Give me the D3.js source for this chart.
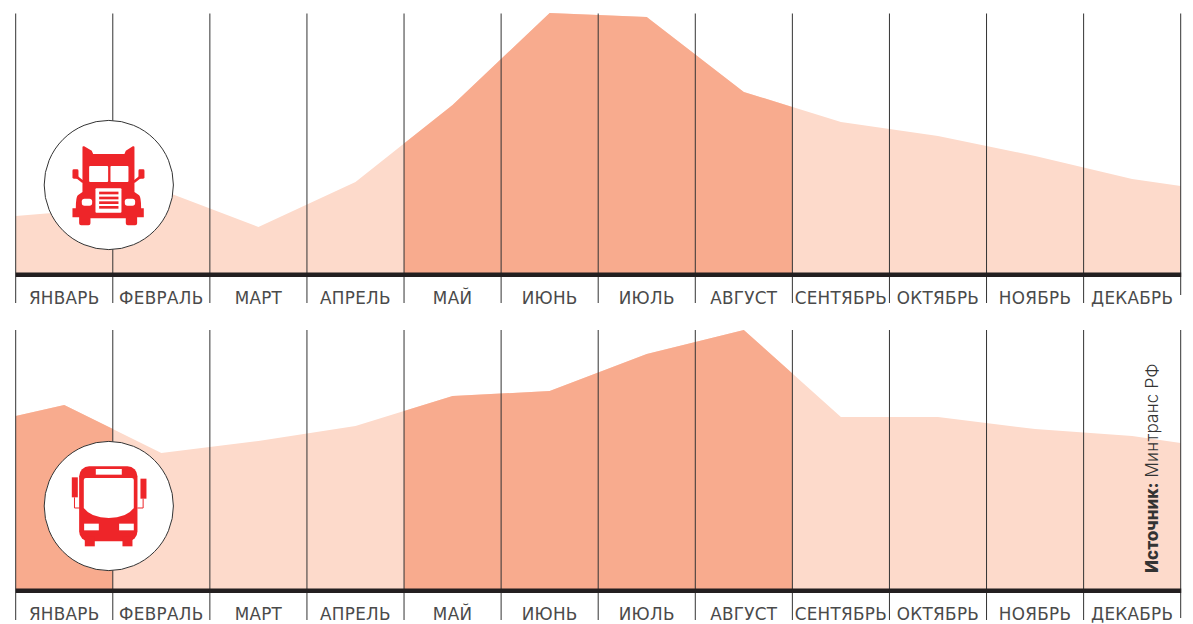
<!DOCTYPE html>
<html>
<head>
<meta charset="utf-8">
<script src="https://cdn.jsdelivr.net/npm/d3@7"></script>
<style>
  html, body { margin: 0; padding: 0; background: #fff; }
  svg { display: block; }
  .month { font-family: "DejaVu Sans", sans-serif; font-size: 16.8px; letter-spacing: 0.3px; fill: #4a4a4a; }
  .source { font-family: Inter, "Noto Sans", sans-serif; font-size: 17px; fill: #333; }
</style>
</head>
<body>
<svg id="chart" width="1193" height="624"></svg>
<script>
const months = ["ЯНВАРЬ", "ФЕВРАЛЬ", "МАРТ", "АПРЕЛЬ", "МАЙ", "ИЮНЬ", "ИЮЛЬ", "АВГУСТ", "СЕНТЯБРЬ", "ОКТЯБРЬ", "НОЯБРЬ", "ДЕКАБРЬ"];

// heights, one per month centre, plus the two edges of the year
const truckValues = [62, 84, 47, 92, 169, 261, 257, 182, 152, 138, 118, 95];
const truckEdges = [58, 88];
const truckPeak = ["МАЙ", "ИЮНЬ", "ИЮЛЬ", "АВГУСТ"];

const busValues = [185, 137, 149, 164, 194, 199, 236, 260, 173, 173, 161, 154];
const busEdges = [174, 147];
const busPeak = ["ЯНВАРЬ", "МАЙ", "ИЮНЬ", "ИЮЛЬ", "АВГУСТ"];

const svg = d3.select("#chart");

const x = d3.scaleBand().domain(months).range([15.7, 1180.7]);
const maxValue = 261;

function drawPanel(id, values, edges, peak, baseY, lineTop, lineBottom, lastBottom) {
  const y = d3.scaleLinear().domain([0, maxValue]).range([baseY, baseY - maxValue]);
  const g = svg.append("g").attr("class", id);

  const points = [
    { pos: x.range()[0], value: edges[0] },
    ...months.map((m, i) => ({ pos: x(m) + x.bandwidth() / 2, value: values[i] })),
    { pos: x.range()[1], value: edges[1] },
  ];

  const area = d3
    .area()
    .x((d) => d.pos)
    .y0(y(0))
    .y1((d) => y(d.value));

  g.append("path").attr("d", area(points)).attr("fill", "#fddacb");

  // darker months are the same area clipped to their columns
  const clip = g.append("clipPath").attr("id", id + "Clip");
  clip
    .selectAll("rect")
    .data(peak)
    .join("rect")
    .attr("x", (d) => x(d))
    .attr("y", y(maxValue) - 5)
    .attr("width", x.bandwidth())
    .attr("height", maxValue + 5);
  g.append("path")
    .attr("d", area(points))
    .attr("fill", "#f8ab8e")
    .attr("clip-path", `url(#${id}Clip)`);

  const gridPos = months.map((m) => x(m)).concat(x.range()[1]);
  g.selectAll("line.grid")
    .data(gridPos)
    .join("line")
    .attr("class", "grid")
    .attr("x1", (d) => d)
    .attr("x2", (d) => d)
    .attr("y1", lineTop)
    .attr("y2", (d, i) => (i === months.length ? lastBottom : lineBottom))
    .attr("stroke", "#333")
    .attr("stroke-width", 1);

  g.append("line")
    .attr("x1", x.range()[0])
    .attr("x2", x.range()[1] + 0.5)
    .attr("y1", y(0) + 0.7)
    .attr("y2", y(0) + 0.7)
    .attr("stroke", "#231f20")
    .attr("stroke-width", 4.5);

  g.selectAll("text.month")
    .data(months)
    .join("text")
    .attr("class", "month")
    .attr("x", (d) => x(d) + x.bandwidth() / 2)
    .attr("y", y(0) + 29.5)
    .attr("text-anchor", "middle")
    .text((d) => d);
}

// icon badges, local coordinates are 3x the pixels of the crop
function badge(cx, cy) {
  const g = svg.append("g").attr("transform", `translate(${cx},${cy})`);
  g.append("circle").attr("r", 64.6).attr("fill", "#fff").attr("stroke", "#333").attr("stroke-width", 1);
  return g.append("g").attr("transform", "scale(0.3333)");
}

function drawTruck(g, ox, oy) {
  const red = "#ee2529";
  const t = g.append("g").attr("transform", `translate(${ox},${oy})`);
  t.append("path")
    .attr("fill", red)
    .attr("d", "M68 22Q68 17 73 19L96 32L100 42H194L198 32L219 19Q224 17 224 22V156L238 166Q244 172 244 205H252V232H232V250Q232 256 226 256H204Q198 256 198 250V235H92V250Q92 256 86 256H64Q58 256 58 250V232H38V205H48Q48 172 54 166L68 156Z");
  t.selectAll("rect.mirror")
    .data([38, 236])
    .join("rect")
    .attr("class", "mirror")
    .attr("x", (d) => d)
    .attr("y", 88)
    .attr("width", 18)
    .attr("height", 28)
    .attr("rx", 4)
    .attr("fill", red);
  t.append("path")
    .attr("fill", "none")
    .attr("stroke", red)
    .attr("stroke-width", 8)
    .attr("d", "M50 110L70 126M242 110L222 126");
  t.selectAll("rect.win")
    .data([[88, 78, 57, 48], [152, 78, 54, 48], [107, 145, 78, 73]])
    .join("rect")
    .attr("class", "win")
    .attr("x", (d) => d[0])
    .attr("y", (d) => d[1])
    .attr("width", (d) => d[2])
    .attr("height", (d) => d[3])
    .attr("rx", 3)
    .attr("fill", "#fff");
  t.selectAll("rect.light")
    .data([66, 195])
    .join("rect")
    .attr("class", "light")
    .attr("x", (d) => d)
    .attr("y", 176)
    .attr("width", 31)
    .attr("height", 21)
    .attr("rx", 8)
    .attr("fill", "#fff");
  t.selectAll("rect.bar")
    .data([155, 170, 184, 198])
    .join("rect")
    .attr("class", "bar")
    .attr("x", 118)
    .attr("y", (d) => d)
    .attr("width", 58)
    .attr("height", 8)
    .attr("fill", red);
}

function drawBus(g, ox, oy) {
  const red = "#ee2529";
  const t = g.append("g").attr("transform", `translate(${ox},${oy})`);
  t.append("rect").attr("x", 58).attr("y", 25).attr("width", 175).attr("height", 225).attr("rx", 30).attr("fill", red);
  t.selectAll("rect.wheel")
    .data([75, 188])
    .join("rect")
    .attr("class", "wheel")
    .attr("x", (d) => d)
    .attr("y", 235)
    .attr("width", 30)
    .attr("height", 30)
    .attr("fill", red);
  t.append("rect").attr("x", 108).attr("y", 33).attr("width", 78).attr("height", 17).attr("fill", "#fff");
  t.append("path")
    .attr("fill", "#fff")
    .attr("d", "M72 66Q72 60 78 60H216Q222 60 222 66V150Q200 180 147 180Q94 180 72 150Z");
  t.selectAll("rect.light")
    .data([73, 178])
    .join("rect")
    .attr("class", "light")
    .attr("x", (d) => d)
    .attr("y", 197)
    .attr("width", 44)
    .attr("height", 20)
    .attr("fill", "#fff");
  t.selectAll("rect.mirror")
    .data([[36, 58], [242, 62]])
    .join("rect")
    .attr("class", "mirror")
    .attr("x", (d) => d[0])
    .attr("y", (d) => d[1])
    .attr("width", 18)
    .attr("height", 60)
    .attr("fill", red);
  t.append("path")
    .attr("fill", "none")
    .attr("stroke", red)
    .attr("stroke-width", 3)
    .attr("d", "M44 118V150H60M250 122V150H233");
}

drawPanel("truck", truckValues, truckEdges, truckPeak, 274, 13.5, 303, 295);
drawPanel("bus", busValues, busEdges, busPeak, 590, 330, 620, 618);

drawTruck(badge(108.8, 185), -147, -135);
drawBus(badge(108.8, 506), -147, -144);

svg.append("text")
  .attr("class", "source")
  .attr("transform", "translate(1158,573) rotate(-90)")
  .call((t) => t.append("tspan").attr("font-weight", 800).text("Источник:"))
  .call((t) => t.append("tspan").attr("font-weight", 300).attr("letter-spacing", 0.25).text(" Минтранс РФ"));
</script>
</body>
</html>
